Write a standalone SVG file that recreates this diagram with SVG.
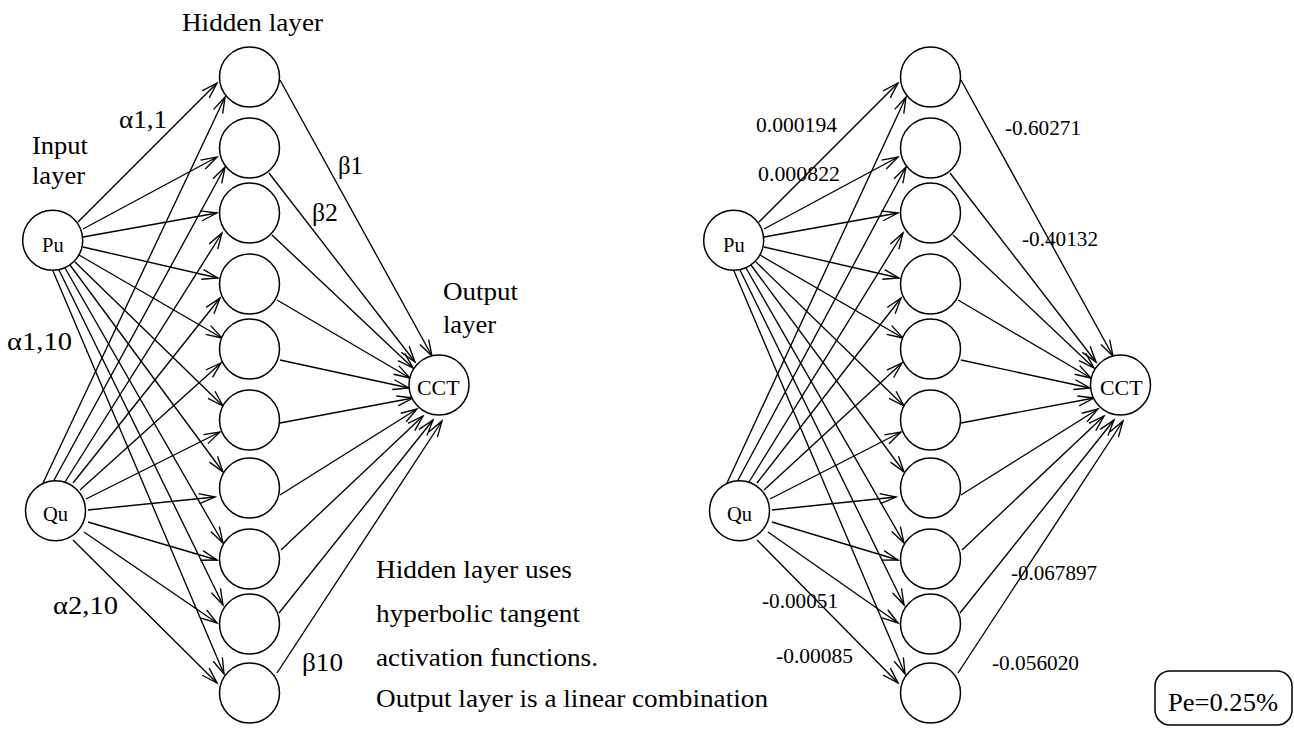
<svg xmlns="http://www.w3.org/2000/svg" width="1294" height="731" viewBox="0 0 1294 731">
  <defs>
    <style>
      .bg { fill: #ffffff; }
      .node { fill: #ffffff; stroke: #000000; stroke-width: 1.5; }
      .edge { fill: none; stroke: #000000; stroke-width: 1.35; marker-end: url(#vhead); }
      .lbl { font-family: "Liberation Serif", "Times New Roman", serif; fill: #000000; }
      .big { font-size: 25px; }
      .mid { font-size: 20.5px; }
      .pe { font-size: 26px; }
    </style>
    <!-- open V arrowhead, tip at the line end -->
    <marker id="vhead" markerUnits="userSpaceOnUse" viewBox="-18 -6 20 12" markerWidth="20" markerHeight="12" refX="0" refY="0" orient="auto" overflow="visible">
      <path d="M-16,-5 L0,0 L-16,5" fill="none" stroke="#000000" stroke-width="1.35"/>
    </marker>
  </defs>

  <rect class="bg" x="0" y="0" width="1294" height="731"/>

  <!-- ===== connectors ===== -->
  <g id="connectors">
    <!-- left network -->
    <g id="left-edges">
      <!-- Pu to hidden -->
      <line class="edge" x1="78" y1="222" x2="217" y2="83"/>
      <line class="edge" x1="83" y1="229" x2="217" y2="157"/>
      <line class="edge" x1="83" y1="237" x2="217" y2="213"/>
      <line class="edge" x1="83" y1="247" x2="218" y2="278"/>
      <line class="edge" x1="79" y1="255" x2="222" y2="338"/>
      <line class="edge" x1="75" y1="262" x2="223" y2="406"/>
      <line class="edge" x1="70" y1="265" x2="223" y2="472"/>
      <line class="edge" x1="65" y1="268" x2="223" y2="543"/>
      <line class="edge" x1="59" y1="270" x2="223" y2="605"/>
      <line class="edge" x1="53" y1="271" x2="224" y2="674"/>
      <!-- Qu to hidden -->
      <line class="edge" x1="43" y1="483" x2="225" y2="97"/>
      <line class="edge" x1="53" y1="482" x2="225" y2="167"/>
      <line class="edge" x1="65" y1="482" x2="222" y2="233"/>
      <line class="edge" x1="73" y1="483" x2="220" y2="298"/>
      <line class="edge" x1="80" y1="490" x2="221" y2="363"/>
      <line class="edge" x1="86" y1="499" x2="220" y2="432"/>
      <line class="edge" x1="88" y1="510" x2="215" y2="497"/>
      <line class="edge" x1="88" y1="522" x2="217" y2="560"/>
      <line class="edge" x1="84" y1="532" x2="217" y2="623"/>
      <line class="edge" x1="73" y1="540" x2="217" y2="683"/>
      <!-- hidden to CCT -->
      <line class="edge" x1="280" y1="80" x2="432" y2="356"/>
      <line class="edge" x1="269" y1="173" x2="415" y2="362"/>
      <line class="edge" x1="272" y1="235" x2="413" y2="368"/>
      <line class="edge" x1="277" y1="300" x2="410" y2="378"/>
      <line class="edge" x1="280" y1="360" x2="409" y2="388"/>
      <line class="edge" x1="280" y1="423" x2="413" y2="398"/>
      <line class="edge" x1="280" y1="495" x2="417" y2="409"/>
      <line class="edge" x1="281" y1="550" x2="423" y2="416"/>
      <line class="edge" x1="279" y1="613" x2="433" y2="420"/>
      <line class="edge" x1="277" y1="673" x2="442" y2="421"/>
    </g>
    <!-- right network: Pu fan and output fan are the left ones moved across -->
    <g id="right-edges-pu-out" transform="translate(681 0)">
      <line class="edge" x1="78" y1="222" x2="217" y2="83"/>
      <line class="edge" x1="83" y1="229" x2="217" y2="157"/>
      <line class="edge" x1="83" y1="237" x2="217" y2="213"/>
      <line class="edge" x1="83" y1="247" x2="218" y2="278"/>
      <line class="edge" x1="79" y1="255" x2="222" y2="338"/>
      <line class="edge" x1="75" y1="262" x2="223" y2="406"/>
      <line class="edge" x1="70" y1="265" x2="223" y2="472"/>
      <line class="edge" x1="65" y1="268" x2="223" y2="543"/>
      <line class="edge" x1="59" y1="270" x2="223" y2="605"/>
      <line class="edge" x1="53" y1="271" x2="224" y2="674"/>
      <line class="edge" x1="280" y1="80" x2="432" y2="356"/>
      <line class="edge" x1="269" y1="173" x2="415" y2="362"/>
      <line class="edge" x1="272" y1="235" x2="413" y2="368"/>
      <line class="edge" x1="277" y1="300" x2="410" y2="378"/>
      <line class="edge" x1="280" y1="360" x2="409" y2="388"/>
      <line class="edge" x1="280" y1="423" x2="413" y2="398"/>
      <line class="edge" x1="280" y1="495" x2="417" y2="409"/>
      <line class="edge" x1="281" y1="550" x2="423" y2="416"/>
      <line class="edge" x1="279" y1="613" x2="433" y2="420"/>
      <line class="edge" x1="277" y1="673" x2="442" y2="421"/>
    </g>
    <g id="right-edges-qu">
      <line class="edge" x1="727" y1="483" x2="906" y2="97"/>
      <line class="edge" x1="737" y1="482" x2="906" y2="167"/>
      <line class="edge" x1="749" y1="482" x2="903" y2="233"/>
      <line class="edge" x1="757" y1="483" x2="901" y2="298"/>
      <line class="edge" x1="764" y1="490" x2="902" y2="363"/>
      <line class="edge" x1="770" y1="499" x2="901" y2="432"/>
      <line class="edge" x1="772" y1="510" x2="896" y2="497"/>
      <line class="edge" x1="772" y1="522" x2="898" y2="560"/>
      <line class="edge" x1="768" y1="532" x2="898" y2="623"/>
      <line class="edge" x1="757" y1="540" x2="898" y2="683"/>
    </g>
  </g>

  <!-- ===== left network nodes ===== -->
  <g id="L-pu"><circle class="node" cx="52.7" cy="240.3" r="30"/><text class="lbl mid" x="42" y="252">Pu</text></g>
  <g id="L-qu"><circle class="node" cx="55.5" cy="510.7" r="30"/><text class="lbl mid" x="43" y="521">Qu</text></g>
  <g id="L-h1"><circle class="node" cx="249.5" cy="77" r="30"/></g>
  <g id="L-h2"><circle class="node" cx="249.5" cy="148" r="30"/></g>
  <g id="L-h3"><circle class="node" cx="249.5" cy="213" r="30"/></g>
  <g id="L-h4"><circle class="node" cx="249.5" cy="284" r="30"/></g>
  <g id="L-h5"><circle class="node" cx="249.5" cy="349" r="30"/></g>
  <g id="L-h6"><circle class="node" cx="249.5" cy="420" r="30"/></g>
  <g id="L-h7"><circle class="node" cx="249.5" cy="488" r="30"/></g>
  <g id="L-h8"><circle class="node" cx="249.5" cy="559" r="30"/></g>
  <g id="L-h9"><circle class="node" cx="249.5" cy="624" r="30"/></g>
  <g id="L-h10"><circle class="node" cx="249.5" cy="693" r="30"/></g>
  <g id="L-cct"><circle class="node" cx="439" cy="385" r="30"/><text class="lbl mid" x="417" y="395" textLength="42.5" lengthAdjust="spacingAndGlyphs">CCT</text></g>

  <!-- ===== right network nodes ===== -->
  <g id="R-pu"><circle class="node" cx="733.7" cy="240.3" r="30"/><text class="lbl mid" x="723" y="252">Pu</text></g>
  <g id="R-qu"><circle class="node" cx="739.5" cy="510.7" r="30"/><text class="lbl mid" x="727" y="521">Qu</text></g>
  <g id="R-h1"><circle class="node" cx="930.5" cy="77" r="30"/></g>
  <g id="R-h2"><circle class="node" cx="930.5" cy="148" r="30"/></g>
  <g id="R-h3"><circle class="node" cx="930.5" cy="213" r="30"/></g>
  <g id="R-h4"><circle class="node" cx="930.5" cy="284" r="30"/></g>
  <g id="R-h5"><circle class="node" cx="930.5" cy="349" r="30"/></g>
  <g id="R-h6"><circle class="node" cx="930.5" cy="420" r="30"/></g>
  <g id="R-h7"><circle class="node" cx="930.5" cy="488" r="30"/></g>
  <g id="R-h8"><circle class="node" cx="930.5" cy="559" r="30"/></g>
  <g id="R-h9"><circle class="node" cx="930.5" cy="624" r="30"/></g>
  <g id="R-h10"><circle class="node" cx="930.5" cy="693" r="30"/></g>
  <g id="R-cct"><circle class="node" cx="1120.5" cy="385" r="30"/><text class="lbl mid" x="1100" y="395" textLength="42.5" lengthAdjust="spacingAndGlyphs">CCT</text></g>

  <!-- ===== left labels ===== -->
  <g id="left-labels" class="lbl big">
    <text x="182" y="31" textLength="141" lengthAdjust="spacingAndGlyphs">Hidden layer</text>
    <text x="32" y="154" textLength="56" lengthAdjust="spacingAndGlyphs">Input</text>
    <text x="32" y="184" textLength="53" lengthAdjust="spacingAndGlyphs">layer</text>
    <text x="443" y="300" textLength="75" lengthAdjust="spacingAndGlyphs">Output</text>
    <text x="443" y="333" textLength="53" lengthAdjust="spacingAndGlyphs">layer</text>
    <text x="119" y="128" textLength="48" lengthAdjust="spacingAndGlyphs">α1,1</text>
    <text x="7" y="350" textLength="65" lengthAdjust="spacingAndGlyphs">α1,10</text>
    <text x="53" y="614" textLength="65" lengthAdjust="spacingAndGlyphs">α2,10</text>
    <text x="338" y="174" textLength="25" lengthAdjust="spacingAndGlyphs">β1</text>
    <text x="312" y="221" textLength="26" lengthAdjust="spacingAndGlyphs">β2</text>
    <text x="302" y="671" textLength="41" lengthAdjust="spacingAndGlyphs">β10</text>
  </g>

  <!-- ===== note ===== -->
  <g id="note" class="lbl big">
    <text x="376" y="578" textLength="196" lengthAdjust="spacingAndGlyphs">Hidden layer uses</text>
    <text x="376" y="622" textLength="204" lengthAdjust="spacingAndGlyphs">hyperbolic tangent</text>
    <text x="376" y="666" textLength="222" lengthAdjust="spacingAndGlyphs">activation functions.</text>
    <text x="376" y="707" textLength="392" lengthAdjust="spacingAndGlyphs">Output layer is a linear combination</text>
  </g>

  <!-- ===== right weight values ===== -->
  <g id="right-labels" class="lbl mid">
    <text x="756" y="132" textLength="81" lengthAdjust="spacingAndGlyphs">0.000194</text>
    <text x="758" y="181" textLength="82" lengthAdjust="spacingAndGlyphs">0.000822</text>
    <text x="1005" y="135" textLength="76" lengthAdjust="spacingAndGlyphs">-0.60271</text>
    <text x="1022" y="246" textLength="76" lengthAdjust="spacingAndGlyphs">-0.40132</text>
    <text x="1011" y="580" textLength="86" lengthAdjust="spacingAndGlyphs">-0.067897</text>
    <text x="762" y="608" textLength="76" lengthAdjust="spacingAndGlyphs">-0.00051</text>
    <text x="776" y="663" textLength="77" lengthAdjust="spacingAndGlyphs">-0.00085</text>
    <text x="992" y="670" textLength="87" lengthAdjust="spacingAndGlyphs">-0.056020</text>
  </g>

  <!-- ===== error box ===== -->
  <g id="pe-box">
    <rect x="1155" y="671" width="137" height="54" rx="15" ry="15" fill="#ffffff" stroke="#000000" stroke-width="1.5"/>
    <text class="lbl pe" x="1168" y="711" textLength="110" lengthAdjust="spacingAndGlyphs">Pe=0.25%</text>
  </g>
</svg>
